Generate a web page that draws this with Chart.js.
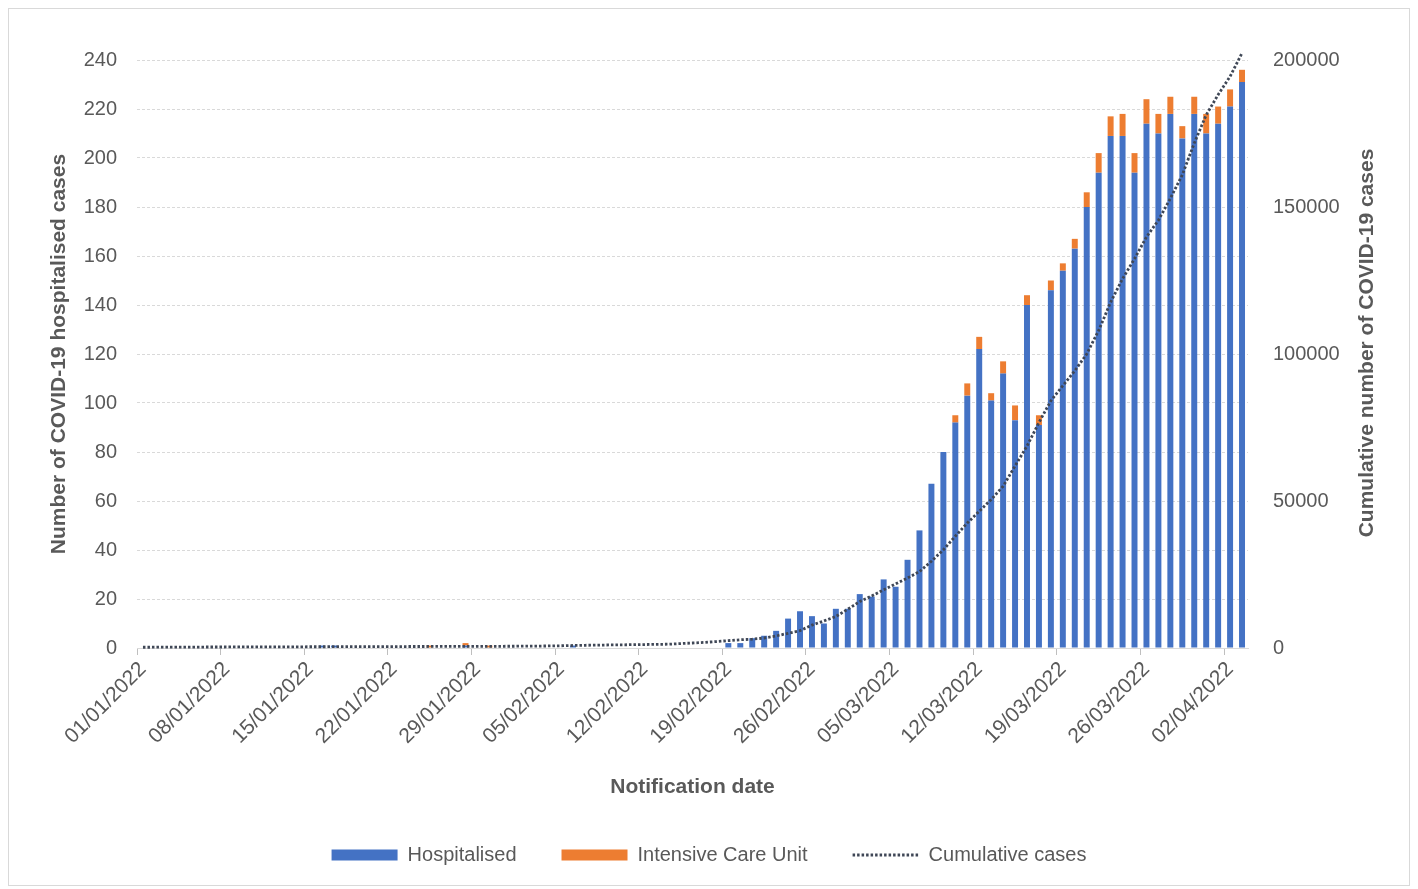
<!DOCTYPE html>
<html>
<head>
<meta charset="utf-8">
<script src="https://cdn.jsdelivr.net/npm/chart.js@4.4.1/dist/chart.umd.min.js"></script>
<style>
html,body{margin:0;padding:0;background:#fff;}
#wrap{width:1418px;height:889px;position:relative;}
</style>
</head>
<body>
<div id="wrap"><canvas id="c" width="1418" height="889"></canvas></div>
<script>
// ---- data ----
const dates = [
 '01/01/2022','02/01/2022','03/01/2022','04/01/2022','05/01/2022','06/01/2022','07/01/2022','08/01/2022','09/01/2022','10/01/2022',
 '11/01/2022','12/01/2022','13/01/2022','14/01/2022','15/01/2022','16/01/2022','17/01/2022','18/01/2022','19/01/2022','20/01/2022',
 '21/01/2022','22/01/2022','23/01/2022','24/01/2022','25/01/2022','26/01/2022','27/01/2022','28/01/2022','29/01/2022','30/01/2022',
 '31/01/2022','01/02/2022','02/02/2022','03/02/2022','04/02/2022','05/02/2022','06/02/2022','07/02/2022','08/02/2022','09/02/2022',
 '10/02/2022','11/02/2022','12/02/2022','13/02/2022','14/02/2022','15/02/2022','16/02/2022','17/02/2022','18/02/2022','19/02/2022',
 '20/02/2022','21/02/2022','22/02/2022','23/02/2022','24/02/2022','25/02/2022','26/02/2022','27/02/2022','28/02/2022','01/03/2022',
 '02/03/2022','03/03/2022','04/03/2022','05/03/2022','06/03/2022','07/03/2022','08/03/2022','09/03/2022','10/03/2022','11/03/2022',
 '12/03/2022','13/03/2022','14/03/2022','15/03/2022','16/03/2022','17/03/2022','18/03/2022','19/03/2022','20/03/2022','21/03/2022',
 '22/03/2022','23/03/2022','24/03/2022','25/03/2022','26/03/2022','27/03/2022','28/03/2022','29/03/2022','30/03/2022','31/03/2022',
 '01/04/2022','02/04/2022','03/04/2022'
];

const hospitalised = [
 0,0,0,0,0,0,0,0,0,0,
 0,0,0,0,0,1,1,0,0,0,
 0,0,0,0,0,0,0,1,0,0,
 0,0,0,0,0,0,1,0,0,0,
 0,0,0,0,0,0,0,0,0,2,
 2,4,5,7,12,15,13,10,16,16,
 22,21,28,25,36,48,67,80,92,103,
 122,101,112,93,140,91,146,154,163,180,
 194,209,209,194,214,210,218,208,218,210,
 214,221,231
];

const icu = [
 0,0,0,0,0,0,0,0,0,0,
 0,0,0,0,0,0,0,0,0,0,
 0,0,0,0,1,0,0,1,0,1,
 0,0,0,0,0,0,0,0,0,0,
 0,0,0,0,0,0,0,0,0,0,
 0,0,0,0,0,0,0,0,0,0,
 0,0,0,0,0,0,0,0,3,5,
 5,3,5,6,4,4,4,3,4,6,
 8,8,9,8,10,8,7,5,7,8,
 7,7,5
];

const cumulative = [
 250,270,290,300,320,330,340,350,360,370,
 380,390,400,410,420,430,440,450,460,470,
 480,490,500,510,520,530,540,550,560,570,
 580,600,620,650,700,760,850,920,980,1030,
 1080,1130,1180,1230,1290,1500,1700,1900,2200,2500,
 2800,3000,3400,4100,5000,5900,7800,9200,10700,13200,
 15800,17700,19800,21800,23800,26000,29500,33400,38000,42500,
 46500,50500,55000,61900,68700,76700,84100,89200,94300,100000,
 108000,117600,125600,132400,139800,145500,152900,160900,171700,181300,
 188200,194400,202400
];

const leftAxisTitle = 'Number of COVID-19 hospitalised cases';
const rightAxisTitle = 'Cumulative number of COVID-19 cases';
const xAxisTitle = 'Notification date';

// ---- styles ----
const BLUE = '#4472C4', ORANGE = '#ED7D31', LINE = '#3F4756', TEXT = '#595959', GRID = '#D9D9D9';
const FONT = "'Liberation Sans', Arial, sans-serif";
const LINE_DASH = [2.5, 2];

const framePlugin = {
  id: 'frame',
  beforeDraw(chart) {
    const c = chart.ctx;
    c.save();
    c.fillStyle = '#ffffff';
    c.fillRect(0, 0, chart.width, chart.height);
    c.strokeStyle = '#D9D9D9';
    c.lineWidth = 1;
    c.strokeRect(8.5, 8.5, chart.width - 17, chart.height - 12);
    c.restore();
  }
};

const rightTitlePlugin = {
  id: 'rightTitle',
  afterDraw(chart) {
    const c = chart.ctx;
    const s = chart.scales.yRight;
    c.save();
    c.translate(s.right - 51, (chart.chartArea.top + chart.chartArea.bottom) / 2 - 11);
    c.rotate(-Math.PI / 2);
    c.font = 'bold 21px ' + FONT;
    c.fillStyle = TEXT;
    c.textAlign = 'center';
    c.textBaseline = 'middle';
    c.fillText(rightAxisTitle, 0, 0);
    c.restore();
  }
};

new Chart(document.getElementById('c'), {
  type: 'bar',
  data: {
    labels: dates,
    datasets: [
      { type: 'bar', label: 'Hospitalised', data: hospitalised, backgroundColor: BLUE, borderWidth: 0,
        yAxisID: 'y', stack: 's', order: 1, barPercentage: 0.5, categoryPercentage: 1 },
      { type: 'bar', label: 'Intensive Care Unit', data: icu, backgroundColor: ORANGE, borderWidth: 0,
        yAxisID: 'y', stack: 's', order: 1, barPercentage: 0.5, categoryPercentage: 1 },
      { type: 'line', label: 'Cumulative cases', data: cumulative, yAxisID: 'yRight',
        borderColor: LINE, backgroundColor: LINE, borderWidth: 2.8, borderDash: LINE_DASH,
        pointRadius: 0, pointHoverRadius: 0, fill: false, tension: 0, clip: false, order: 0 }
    ]
  },
  options: {
    responsive: false,
    devicePixelRatio: 1,
    animation: false,
    layout: { padding: { top: 60, left: 0, right: 0, bottom: 14 } },
    plugins: {
      tooltip: { enabled: false },
      legend: {
        position: 'bottom',
        labels: {
          color: TEXT,
          font: { family: FONT, size: 20 },
          usePointStyle: true,
          pointStyleWidth: 66,
          boxHeight: 11,
          padding: 45,
          sort: (a, b) => a.datasetIndex - b.datasetIndex,
          generateLabels(chart) {
            const items = Chart.defaults.plugins.legend.labels.generateLabels(chart);
            items.forEach(it => {
              const ds = chart.data.datasets[it.datasetIndex];
              if (ds.type === 'line') {
                it.pointStyle = 'line';
                it.lineDash = ds.borderDash;
                it.lineWidth = ds.borderWidth;
                it.strokeStyle = ds.borderColor;
              } else {
                it.pointStyle = 'rect';
                it.lineWidth = 0;
              }
            });
            return items;
          }
        }
      }
    },
    scales: {
      x: {
        stacked: true,
        offset: true,
        grid: {
          display: true, offset: true, drawOnChartArea: false, drawTicks: true, tickLength: 7,
          color: c => (c.index % 7 === 0) ? '#BFBFBF' : 'rgba(0,0,0,0)'
        },
        border: { display: true, color: GRID, width: 1 },
        ticks: {
          autoSkip: false, maxRotation: 45, minRotation: 45, color: TEXT,
          font: { family: FONT, size: 21 }, padding: 2,
          callback: (v, i) => (i % 7 === 0 ? dates[i] : '')
        },
        title: { display: true, text: xAxisTitle, color: TEXT,
          font: { family: FONT, size: 21, weight: 'bold' }, padding: { top: 0, bottom: 0 } },
        afterFit: s => { s.height = 152; }
      },
      y: {
        position: 'left', stacked: true, min: 0, max: 240,
        ticks: { stepSize: 20, color: TEXT, font: { family: FONT, size: 20 }, padding: 20 },
        grid: { color: GRID, drawTicks: false },
        border: { display: false, dash: [3, 2] },
        title: { display: true, text: leftAxisTitle, color: TEXT,
          font: { family: FONT, size: 21, weight: 'bold' }, padding: { top: 47, bottom: 0 } },
        afterFit: s => { s.width = 137; }
      },
      yRight: {
        position: 'right', min: 0, max: 200000,
        ticks: { stepSize: 50000, color: TEXT, font: { family: FONT, size: 20 }, padding: 25,
          callback: v => String(v) },
        grid: { drawOnChartArea: false, drawTicks: false },
        border: { display: false },
        afterFit: s => { s.width = 170; }
      }
    }
  },
  plugins: [framePlugin, rightTitlePlugin]
});
</script>
</body>
</html>
